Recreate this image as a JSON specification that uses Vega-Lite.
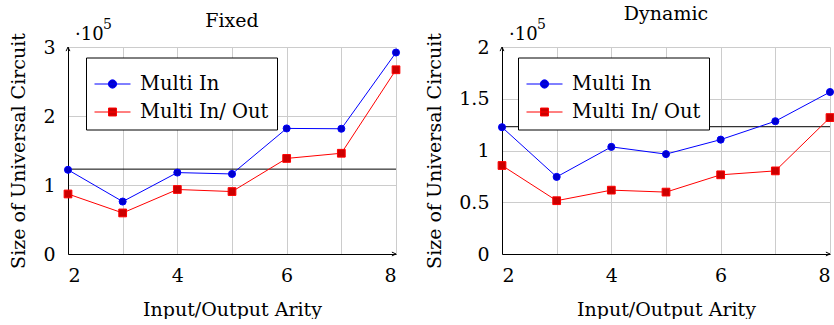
{
  "$schema": "https://vega.github.io/schema/vega-lite/v6.json",
  "background": "white",
  "padding": {"left": 9, "top": 4, "right": 0, "bottom": 0},
  "config": {
    "font": "DejaVu Serif",
    "view": {"stroke": null},
    "axis": {
      "labelFont": "DejaVu Serif", "titleFont": "DejaVu Serif",
      "labelFontSize": 19, "titleFontSize": 19, "labelColor": "black", "titleColor": "black",
      "titleFontWeight": "normal", "domainColor": "black", "domainWidth": 1,
      "gridColor": "#cccccc", "gridWidth": 1, "gridOpacity": 1, "ticks": false
    },
    "title": {"font": "DejaVu Serif", "fontSize": 19, "fontWeight": "normal", "color": "black"},
    "legend": {
      "labelFont": "DejaVu Serif", "labelFontSize": 19.5, "labelColor": "black", "labelLimit": 400,
      "strokeColor": "black", "fillColor": "white", "padding": 8, "cornerRadius": 0,
      "symbolSize": 1296, "symbolStrokeWidth": 1, "symbolOpacity": 1, "labelOffset": 9, "rowPadding": 0
    }
  },
  "spacing": 23,
  "resolve": {"scale": {"stroke": "independent", "fill": "independent"}, "legend": {"stroke": "independent"}},
  "hconcat": [
    {
      "width": 328, "height": 207,
      "title": {"text": "Fixed", "frame": "group", "baseline": "alphabetic", "offset": -27.5},
      "data": {"values": [
        {"arity": 2, "series": "Multi In", "size": 1.22},
        {"arity": 3, "series": "Multi In", "size": 0.76},
        {"arity": 4, "series": "Multi In", "size": 1.18},
        {"arity": 5, "series": "Multi In", "size": 1.16},
        {"arity": 6, "series": "Multi In", "size": 1.82},
        {"arity": 7, "series": "Multi In", "size": 1.815},
        {"arity": 8, "series": "Multi In", "size": 2.92},
        {"arity": 2, "series": "Multi In/ Out", "size": 0.87},
        {"arity": 3, "series": "Multi In/ Out", "size": 0.595},
        {"arity": 4, "series": "Multi In/ Out", "size": 0.935},
        {"arity": 5, "series": "Multi In/ Out", "size": 0.905},
        {"arity": 6, "series": "Multi In/ Out", "size": 1.385},
        {"arity": 7, "series": "Multi In/ Out", "size": 1.46},
        {"arity": 8, "series": "Multi In/ Out", "size": 2.67}
      ]},
      "layer": [
        {
          "data": {"values": [{"ref": 1.23}]},
          "mark": {"type": "rule", "color": "black", "strokeWidth": 1},
          "encoding": {"y": {"field": "ref", "type": "quantitative", "scale": {"domain": [0, 3], "nice": false, "zero": false}}}
        },
        {
          "mark": {"type": "line", "strokeWidth": 1},
          "encoding": {
            "x": {"field": "arity", "type": "quantitative", "scale": {"domain": [2, 8], "nice": false, "zero": false},
              "axis": {"values": [2, 3, 4, 5, 6, 7, 8], "format": "d", "labelExpr": "datum.value % 2 == 0 ? datum.label : ''", "labelPadding": 12, "titlePadding": 15, "title": "Input/Output Arity"}},
            "y": {"field": "size", "type": "quantitative", "scale": {"domain": [0, 3], "nice": false, "zero": false},
              "axis": {"values": [0, 0.5, 1, 1.5, 2, 2.5, 3], "format": "~g", "labelExpr": "datum.value % 1 == 0 ? datum.label : ''", "labelPadding": 13, "titlePadding": 14, "title": "Size of Universal Circuit"}},
            "stroke": {"field": "series", "type": "nominal", "scale": {"domain": ["Multi In", "Multi In/ Out"], "range": ["#0000ff", "#ff0000"]},
              "legend": {"title": null, "orient": "none", "legendX": 18, "legendY": 10.5,
                "encode": {"symbols": {"update": {
                  "shape": {"signal": "datum.value == 'Multi In' ? 'M-1,0L1,0M0.23,0A0.23,0.23,0,1,1,-0.23,0A0.23,0.23,0,1,1,0.23,0Z' : 'M-1,0L1,0M-0.22,-0.22L0.22,-0.22L0.22,0.22L-0.22,0.22Z'"},
                  "fill": {"signal": "datum.value == 'Multi In' ? '#0000cc' : '#cc0000'"},
                  "strokeWidth": {"value": 1}, "opacity": {"value": 1}
                }}}}}
          }
        },
        {
          "mark": {"type": "point", "filled": false, "strokeWidth": 1, "opacity": 1, "fillOpacity": 1},
          "encoding": {
            "x": {"field": "arity", "type": "quantitative"},
            "y": {"field": "size", "type": "quantitative"},
            "stroke": {"field": "series", "type": "nominal"},
            "fill": {"field": "series", "type": "nominal", "scale": {"domain": ["Multi In", "Multi In/ Out"], "range": ["#0000cc", "#cc0000"]}, "legend": null},
            "shape": {"field": "series", "type": "nominal", "scale": {"domain": ["Multi In", "Multi In/ Out"], "range": ["circle", "square"]}, "legend": null},
            "size": {"field": "series", "type": "nominal", "scale": {"domain": ["Multi In", "Multi In/ Out"], "range": [50, 60]}, "legend": null}
          }
        },
        {
          "data": {"values": [{"ax": 2, "ay": 3}]},
          "mark": {"type": "point", "shape": "M-0.6,1.3L0,0L0.6,1.3", "size": 40, "filled": false, "stroke": "black", "strokeWidth": 1, "opacity": 1},
          "encoding": {"x": {"field": "ax", "type": "quantitative"}, "y": {"field": "ay", "type": "quantitative"}}
        },
        {
          "data": {"values": [{"ax": 8, "ay": 0}]},
          "mark": {"type": "point", "shape": "M-1.3,-0.6L0,0L-1.3,0.6", "size": 40, "filled": false, "stroke": "black", "strokeWidth": 1, "opacity": 1},
          "encoding": {"x": {"field": "ax", "type": "quantitative"}, "y": {"field": "ay", "type": "quantitative"}}
        },
        {
          "data": {"values": [{"ax": 2, "ay": 3, "label": "·10"}]},
          "mark": {"type": "text", "align": "left", "baseline": "alphabetic", "dx": 7, "dy": -7, "fontSize": 18, "color": "black"},
          "encoding": {"x": {"field": "ax", "type": "quantitative"}, "y": {"field": "ay", "type": "quantitative"}, "text": {"field": "label"}}
        },
        {
          "data": {"values": [{"ax": 2, "ay": 3, "label": "5"}]},
          "mark": {"type": "text", "align": "left", "baseline": "alphabetic", "dx": 35, "dy": -18, "fontSize": 14, "color": "black"},
          "encoding": {"x": {"field": "ax", "type": "quantitative"}, "y": {"field": "ay", "type": "quantitative"}, "text": {"field": "label"}}
        }
      ]
    },
    {
      "width": 328, "height": 207,
      "title": {"text": "Dynamic", "frame": "group", "baseline": "alphabetic", "offset": -20.5},
      "data": {"values": [
        {"arity": 2, "series": "Multi In", "size": 1.225},
        {"arity": 3, "series": "Multi In", "size": 0.745},
        {"arity": 4, "series": "Multi In", "size": 1.035},
        {"arity": 5, "series": "Multi In", "size": 0.965},
        {"arity": 6, "series": "Multi In", "size": 1.105},
        {"arity": 7, "series": "Multi In", "size": 1.283},
        {"arity": 8, "series": "Multi In", "size": 1.565},
        {"arity": 2, "series": "Multi In/ Out", "size": 0.855},
        {"arity": 3, "series": "Multi In/ Out", "size": 0.515},
        {"arity": 4, "series": "Multi In/ Out", "size": 0.617},
        {"arity": 5, "series": "Multi In/ Out", "size": 0.598},
        {"arity": 6, "series": "Multi In/ Out", "size": 0.765},
        {"arity": 7, "series": "Multi In/ Out", "size": 0.803},
        {"arity": 8, "series": "Multi In/ Out", "size": 1.318}
      ]},
      "layer": [
        {
          "data": {"values": [{"ref": 1.23}]},
          "mark": {"type": "rule", "color": "#333333", "strokeWidth": 1.2},
          "encoding": {"y": {"field": "ref", "type": "quantitative", "scale": {"domain": [0, 2], "nice": false, "zero": false}}}
        },
        {
          "mark": {"type": "line", "strokeWidth": 1},
          "encoding": {
            "x": {"field": "arity", "type": "quantitative", "scale": {"domain": [2, 8], "nice": false, "zero": false},
              "axis": {"values": [2, 3, 4, 5, 6, 7, 8], "format": "d", "labelExpr": "datum.value % 2 == 0 ? datum.label : ''", "labelPadding": 12, "titlePadding": 15, "title": "Input/Output Arity"}},
            "y": {"field": "size", "type": "quantitative", "scale": {"domain": [0, 2], "nice": false, "zero": false},
              "axis": {"values": [0, 0.25, 0.5, 0.75, 1, 1.25, 1.5, 1.75, 2], "format": "~g", "labelExpr": "datum.value % 0.5 == 0 ? datum.label : ''", "labelPadding": 13, "titlePadding": 14, "title": "Size of Universal Circuit"}},
            "stroke": {"field": "series", "type": "nominal", "scale": {"domain": ["Multi In", "Multi In/ Out"], "range": ["#0000ff", "#ff0000"]},
              "legend": {"title": null, "orient": "none", "legendX": 16, "legendY": 10.5,
                "encode": {"symbols": {"update": {
                  "shape": {"signal": "datum.value == 'Multi In' ? 'M-1,0L1,0M0.23,0A0.23,0.23,0,1,1,-0.23,0A0.23,0.23,0,1,1,0.23,0Z' : 'M-1,0L1,0M-0.22,-0.22L0.22,-0.22L0.22,0.22L-0.22,0.22Z'"},
                  "fill": {"signal": "datum.value == 'Multi In' ? '#0000cc' : '#cc0000'"},
                  "strokeWidth": {"value": 1}, "opacity": {"value": 1}
                }}}}}
          }
        },
        {
          "mark": {"type": "point", "filled": false, "strokeWidth": 1, "opacity": 1, "fillOpacity": 1},
          "encoding": {
            "x": {"field": "arity", "type": "quantitative"},
            "y": {"field": "size", "type": "quantitative"},
            "stroke": {"field": "series", "type": "nominal"},
            "fill": {"field": "series", "type": "nominal", "scale": {"domain": ["Multi In", "Multi In/ Out"], "range": ["#0000cc", "#cc0000"]}, "legend": null},
            "shape": {"field": "series", "type": "nominal", "scale": {"domain": ["Multi In", "Multi In/ Out"], "range": ["circle", "square"]}, "legend": null},
            "size": {"field": "series", "type": "nominal", "scale": {"domain": ["Multi In", "Multi In/ Out"], "range": [50, 60]}, "legend": null}
          }
        },
        {
          "data": {"values": [{"ax": 2, "ay": 2}]},
          "mark": {"type": "point", "shape": "M-0.6,1.3L0,0L0.6,1.3", "size": 40, "filled": false, "stroke": "black", "strokeWidth": 1, "opacity": 1},
          "encoding": {"x": {"field": "ax", "type": "quantitative"}, "y": {"field": "ay", "type": "quantitative"}}
        },
        {
          "data": {"values": [{"ax": 8, "ay": 0}]},
          "mark": {"type": "point", "shape": "M-1.3,-0.6L0,0L-1.3,0.6", "size": 40, "filled": false, "stroke": "black", "strokeWidth": 1, "opacity": 1},
          "encoding": {"x": {"field": "ax", "type": "quantitative"}, "y": {"field": "ay", "type": "quantitative"}}
        },
        {
          "data": {"values": [{"ax": 2, "ay": 2, "label": "·10"}]},
          "mark": {"type": "text", "align": "left", "baseline": "alphabetic", "dx": 7, "dy": -7, "fontSize": 18, "color": "black"},
          "encoding": {"x": {"field": "ax", "type": "quantitative"}, "y": {"field": "ay", "type": "quantitative"}, "text": {"field": "label"}}
        },
        {
          "data": {"values": [{"ax": 2, "ay": 2, "label": "5"}]},
          "mark": {"type": "text", "align": "left", "baseline": "alphabetic", "dx": 35, "dy": -18, "fontSize": 14, "color": "black"},
          "encoding": {"x": {"field": "ax", "type": "quantitative"}, "y": {"field": "ay", "type": "quantitative"}, "text": {"field": "label"}}
        }
      ]
    }
  ]
}
